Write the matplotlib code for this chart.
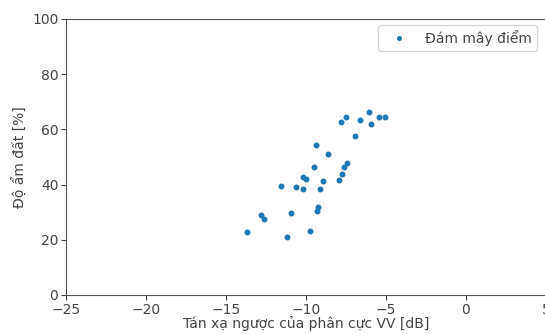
import matplotlib
matplotlib.use("Agg")
import matplotlib.pyplot as plt

vv_db = [-6.04, -7.48, -7.81, -6.61, -5.96, -5.42, -5.06, -6.96, -9.38, -8.64,
         -7.44, -7.61, -9.48, -7.73, -7.96, -10.21, -9.98, -8.92, -11.54, -10.63,
         -10.19, -9.11, -9.27, -9.31, -10.94, -12.81, -12.64, -13.67, -9.75, -11.17]
soil_moisture = [66.4, 64.6, 62.8, 63.3, 62.0, 64.6, 64.5, 57.6, 54.3, 51.0,
                 47.9, 46.5, 46.5, 43.9, 41.8, 42.8, 41.9, 41.3, 39.6, 39.0,
                 38.5, 38.5, 31.8, 30.3, 29.6, 29.1, 27.4, 22.9, 23.1, 21.1]
x_ticks = [-25, -20, -15, -10, -5, 0, 5]
y_ticks = [0, 20, 40, 60, 80, 100]

txt = '#444444'
plt.rcParams['font.family'] = ['DejaVu Sans']
fig = plt.figure(figsize=(5.45, 3.34), dpi=100)
ax = fig.add_axes([66/545, 39/334, 480/545, 276/334])
ax.plot(vv_db, soil_moisture, '.', color='#1f77b4', ms=6.5, label='Đám mây điểm')
ax.set_xlim(-25, 5)
ax.set_ylim(0, 100)
ax.set_xticks(x_ticks)
ax.set_yticks(y_ticks)
ax.tick_params(labelsize=10, colors=txt, pad=2)
for s in ax.spines.values():
    s.set_color('#555555')
ax.set_xlabel('Tán xạ ngược của phân cực VV [dB]', fontsize=10, color=txt, labelpad=-0.5)
ax.set_ylabel('Độ ẩm đất [%]', fontsize=10, color=txt, labelpad=3)
leg = ax.legend(loc='upper right', bbox_to_anchor=(0.981, 0.978), borderaxespad=0,
                fontsize=10, borderpad=0.35, handlelength=2.3, handletextpad=0.72,
                markerscale=0.8)
for t in leg.get_texts():
    t.set_color(txt)
fig.savefig('out.png', dpi=100)
